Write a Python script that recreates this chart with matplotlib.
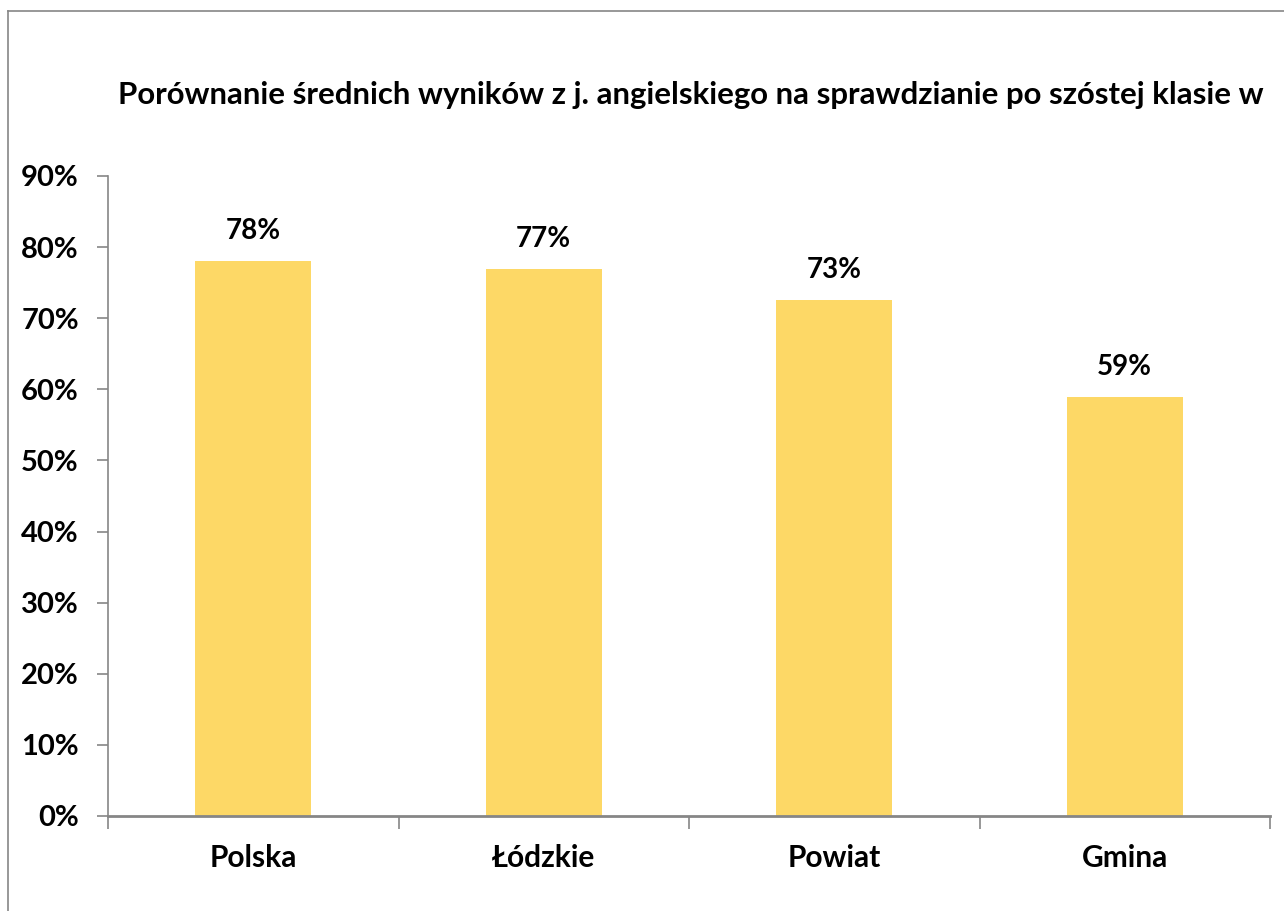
import matplotlib
matplotlib.use('Agg')
import matplotlib.pyplot as plt
from matplotlib.lines import Line2D
from matplotlib.ticker import FixedLocator, PercentFormatter

# ── Data ──────────────────────────────────────────────────────────────────────
categories = ['Polska', 'Łódzkie', 'Powiat', 'Gmina']
scores = [78.0, 76.9, 72.6, 58.9]
yticks = [0, 10, 20, 30, 40, 50, 60, 70, 80, 90]
title = 'Porównanie średnich wyników z j. angielskiego na sprawdzianie po szóstej klasie w'

BAR = '#FDD866'
AXIS = '#868686'
plt.rcParams['font.family'] = ['Lato', 'DejaVu Sans']

fig = plt.figure(figsize=(12.84, 9.11), dpi=100, facecolor='white')
ax = fig.add_axes([108/1284, 1 - 816/911, (1270-108)/1284, (816-176)/911])

x = list(range(len(categories)))
ax.bar(x, scores, width=0.4, color=BAR, zorder=2)
for xi, v in zip(x, scores):
    ax.text(xi, v + 2.4, f'{v:.0f}%', ha='center', va='bottom',
            fontsize=20, fontweight='bold')

ax.set_xlim(-0.5, len(categories) - 0.5)
ax.set_ylim(0, 90)
ax.set_yticks(yticks)
ax.yaxis.set_major_formatter(PercentFormatter(decimals=0))
ax.set_xticks(x)
ax.set_xticklabels(categories, fontsize=21.5, fontweight='bold')
ax.xaxis.set_minor_locator(FixedLocator([i - 0.5 for i in range(len(categories) + 1)]))
ax.tick_params(axis='x', which='major', length=0, pad=20)
ax.tick_params(axis='x', which='minor', length=9, width=1.2, color=AXIS)
ax.tick_params(axis='y', length=8, width=1.2, color=AXIS, labelsize=21, pad=13)
for lab in ax.get_yticklabels():
    lab.set_fontweight('bold')

for s in ['top', 'right']:
    ax.spines[s].set_visible(False)
ax.spines['left'].set_color(AXIS)
ax.spines['bottom'].set_color(AXIS)
ax.spines['left'].set_linewidth(1.2)
ax.spines['bottom'].set_linewidth(2)

fig.text(691/1284, 1 - 95/911, title, ha='center', va='center', fontsize=22.4, fontweight='bold')

# chart-area border (runs off the right and bottom edges)
fig.add_artist(Line2D([8/1284, 8/1284], [0, 1 - 11/911], color=AXIS, lw=1.2))
fig.add_artist(Line2D([8/1284, 1], [1 - 11/911, 1 - 11/911], color=AXIS, lw=1.2))

fig.savefig('out.png', dpi=100, facecolor='white')
